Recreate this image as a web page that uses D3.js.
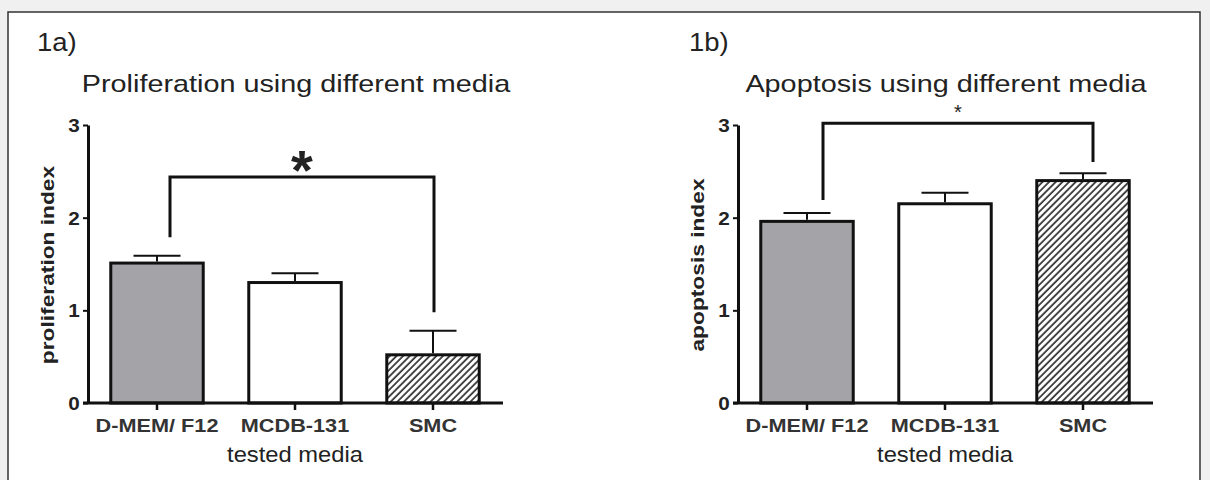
<!DOCTYPE html>
<html>
<head>
<meta charset="utf-8">
<script src="https://cdn.jsdelivr.net/npm/d3@7"></script>
<style>
  html, body { margin: 0; padding: 0; background: #f0f0f0; }
  svg { display: block; }
  text { font-family: "Liberation Sans", Arial, sans-serif; fill: #222; }
</style>
</head>
<body>
<svg id="chart" width="1210" height="480"></svg>
<script>
// media tested
const categories = ["D-MEM/ F12", "MCDB-131", "SMC"];
const yTicks = [0, 1, 2, 3];

// 1a) proliferation index, mean + SEM
const prolifMean = [1.51, 1.30, 0.52];
const prolifErr = [0.08, 0.10, 0.26];
// significance bracket: [left leg bottom, bracket top, right leg bottom]
const prolifSig = [1.79, 2.44, 0.98];

// 1b) apoptosis index, mean + SEM
const apopMean = [1.96, 2.15, 2.40];
const apopErr = [0.09, 0.12, 0.08];
const apopSig = [2.19, 3.02, 2.60];

const fills = ["#a4a4a8", "#ffffff", "url(#hatch)"];

const svg = d3.select("#chart");

// frame
svg.append("rect")
   .attr("x", 8).attr("y", 12)
   .attr("width", 1192).attr("height", 480)
   .style("fill", "#fff")
   .style("stroke", "#333")
   .style("stroke-width", 1.5);

// hatch for the SMC bars
let defs = svg.append("defs");
defs.append("pattern")
    .attr("id", "hatch")
    .attr("patternUnits", "userSpaceOnUse")
    .attr("width", 4.7).attr("height", 4.7)
    .attr("patternTransform", "rotate(45)")
    .call(p => {
        p.append("rect").attr("width", 4.7).attr("height", 4.7).style("fill", "#fff");
        p.append("line").attr("x1", 1).attr("y1", 0).attr("x2", 1).attr("y2", 4.7)
         .style("stroke", "#222").style("stroke-width", 1.6);
    });

// text stretched horizontally, like the source figure
function label(g, x, y, str, size, weight, sx, rot) {
    let t = g.append("text")
        .attr("transform", "translate(" + x + "," + y + ")" + (rot ? " rotate(" + rot + ")" : "") + " scale(" + sx + ",1)")
        .attr("text-anchor", "middle")
        .style("font-size", size + "px")
        .style("font-weight", weight)
        .text(str);
    return t;
}

function drawPanel(opts) {
    let g = svg.append("g");
    let x = d3.scaleBand()
        .domain(categories)
        .range([opts.x0, opts.x0 + 414])
        .paddingInner(0.33)
        .paddingOuter(0.165);
    let y = d3.scaleLinear().domain([0, 3]).range([403, 125]);

    // panel tag + title
    label(g, opts.tagX, 51, opts.tag, 25, "normal", 1.1).attr("text-anchor", "start");
    label(g, opts.titleX, 92, opts.title, 24, "normal", 1.2);

    // bars
    g.selectAll("rect.bar")
        .data(opts.mean)
        .enter().append("rect")
        .attr("class", "bar")
        .attr("x", (d, i) => x(categories[i]))
        .attr("y", d => y(d))
        .attr("width", x.bandwidth())
        .attr("height", d => y(0) - y(d))
        .style("fill", (d, i) => fills[i])
        .style("stroke", "#111")
        .style("stroke-width", 3);

    // error bars (upper only)
    let cx = i => x(categories[i]) + x.bandwidth() / 2;
    opts.mean.forEach((m, i) => {
        let top = y(m + opts.err[i]);
        g.append("line")
         .attr("x1", cx(i)).attr("x2", cx(i))
         .attr("y1", y(m) - 1.5).attr("y2", top)
         .style("stroke", "#111").style("stroke-width", 2);
        g.append("line")
         .attr("x1", cx(i) - 23.5).attr("x2", cx(i) + 23.5)
         .attr("y1", top).attr("y2", top)
         .style("stroke", "#111").style("stroke-width", 2);
    });

    // y axis
    let yAxis = g.append("g")
        .attr("transform", "translate(" + opts.x0 + ",0)")
        .call(d3.axisLeft(y).tickValues(yTicks).tickFormat(d3.format("d")).tickSize(5).tickSizeOuter(0));
    yAxis.select(".domain").style("stroke", "#111").style("stroke-width", 3);
    yAxis.selectAll(".tick line").style("stroke", "#111").style("stroke-width", 2);
    yAxis.selectAll(".tick text").remove();
    yTicks.forEach(v => label(g, opts.x0 - 14, y(v) + 7, String(v), 18, "bold", 1.15));

    // x axis, starts a little left of the y axis
    g.append("line")
     .attr("x1", opts.x0 - 5).attr("x2", opts.x0 + 415)
     .attr("y1", y(0)).attr("y2", y(0))
     .style("stroke", "#111").style("stroke-width", 3);
    let xAxis = g.append("g")
        .attr("transform", "translate(0," + y(0) + ")")
        .call(d3.axisBottom(x).tickSize(7).tickSizeOuter(0));
    xAxis.select(".domain").remove();
    xAxis.selectAll(".tick line").style("stroke", "#111").style("stroke-width", 2.5);
    xAxis.selectAll(".tick text").remove();
    categories.forEach((c, i) => label(g, cx(i), 432, c, 17.5, "bold", 1.24).style("fill", "#333"));
    label(g, cx(1), 462, "tested media", 22, "normal", 1.08);

    // y label
    label(g, opts.x0 - 34, 265, opts.yLabel, 17.5, "bold", 1.3, -90);

    // significance bracket
    let s = opts.sig;
    let lx = opts.sigX[0], rx = opts.sigX[1];
    g.append("path")
     .attr("d", "M" + lx + "," + y(s[0]) + "V" + y(s[1]) + "H" + rx + "V" + y(s[2]))
     .style("fill", "none").style("stroke", "#111").style("stroke-width", 3);
    label(g, (lx + rx) / 2, y(s[1]) + opts.starDy, "*", opts.starSize, opts.starWeight, 1);
}

drawPanel({
    x0: 88, tagX: 37, tag: "1a)", title: "Proliferation using different media", titleX: 296,
    yLabel: "proliferation index", mean: prolifMean, err: prolifErr,
    sig: prolifSig, sigX: [170, 434], starDy: 12, starSize: 56, starWeight: "bold"
});
drawPanel({
    x0: 738, tagX: 689, tag: "1b)", title: "Apoptosis using different media", titleX: 946,
    yLabel: "apoptosis index", mean: apopMean, err: apopErr,
    sig: apopSig, sigX: [823, 1093], starDy: -4, starSize: 20, starWeight: "normal"
});
</script>
</body>
</html>
